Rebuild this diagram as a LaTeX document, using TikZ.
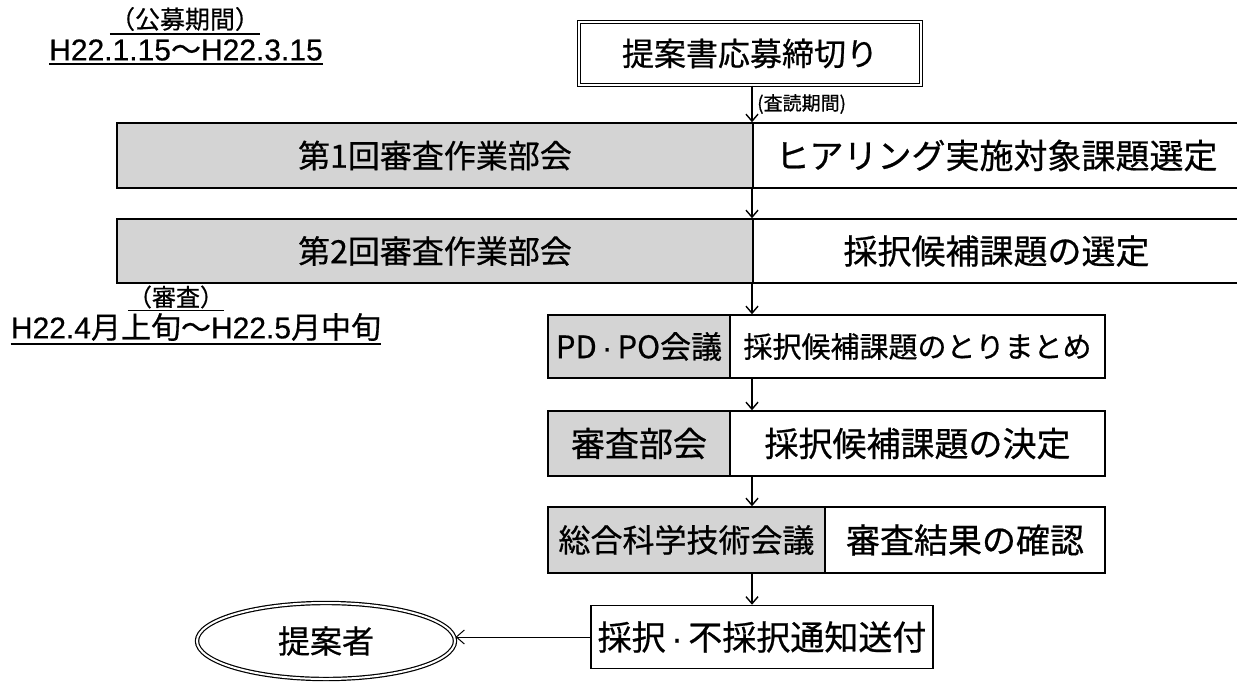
\documentclass[tikz,border=0pt]{standalone}
\usepackage{fontspec}
\setmainfont{Noto Sans CJK JP}[FakeBold=0.6]
\newfontfamily\lat{Liberation Sans}[FakeBold=0.4]
\usetikzlibrary{arrows.meta,shapes.geometric}
\newcommand{\fs}[1]{\fontsize{#1pt}{#1pt}\selectfont}
\newcommand{\mdot}{{\lat\,·\,}}
\begin{document}
\begin{tikzpicture}[x=1pt,y=-1pt,
  cell/.style={draw=black, line width=1.5pt, inner sep=0pt, anchor=center},
  graycell/.style={cell, fill=black!17},
  whitecell/.style={cell, fill=white},
  arr/.style={line width=1.6pt, -{Straight Barb[length=7pt,width=12pt,line width=1.4pt]}},
  lbl/.style={inner sep=0pt, anchor=center},
  uline/.style={line width=1.4pt}
]
\useasboundingbox[fill=white] (0,0) rectangle (1237,686);

% left labels
\node[lbl, font=\fs{25}] (p1) at (185,19) {（公募期間）};
\node[lbl, font=\fs{30}] (p2) at (186,50) {{\lat H22.1.15}～{\lat H22.3.15}};
\node[lbl, font=\fs{24}] (s1) at (176,297) {（審査）};
\node[lbl, font=\fs{30}] (s2) at (196,327) {{\lat H22.4}月上旬～{\lat H22.5}月中旬};
\draw[uline] ([yshift=-3pt]p1.south west) -- ([yshift=-3pt]p1.south east);
\draw[uline] ([yshift=-3pt]p2.south west) -- ([yshift=-3pt]p2.south east);
\draw[uline] ([yshift=-2pt]s1.south west) -- ([yshift=-2pt]s1.south east);
\draw[uline] ([yshift=-3pt]s2.south west) -- ([yshift=-3pt]s2.south east);

% top box
\node[draw=black, line width=1.2pt, double, double distance=2pt, inner sep=0pt,
      minimum width=342pt, minimum height=63pt, font=\fs{32}] (top) at (750,53.5) {提案書応募締切り};

% row 1
\node[graycell, minimum width=636pt, minimum height=65pt, font=\fs{32}] (g1) at (435,155.5) {第1回審査作業部会};
\node[whitecell, minimum width=487pt, minimum height=65pt, font=\fs{34}] (w1) at (996.5,155.5) {ヒアリング実施対象課題選定};
% row 2
\node[graycell, minimum width=636pt, minimum height=64pt, font=\fs{32}] (g2) at (435,251) {第2回審査作業部会};
\node[whitecell, minimum width=487pt, minimum height=64pt, font=\fs{34}] (w2) at (996.5,251) {採択候補課題の選定};
% row 3
\node[graycell, minimum width=182pt, minimum height=63pt, font=\fs{31}] (g3) at (639,346.5) {PD\mdot PO会議};
\node[whitecell, minimum width=375pt, minimum height=63pt, font=\fs{29}] (w3) at (917.5,346.5) {採択候補課題のとりまとめ};
% row 4
\node[graycell, minimum width=182pt, minimum height=65pt, font=\fs{34}] (g4) at (639,443.5) {審査部会};
\node[whitecell, minimum width=375pt, minimum height=65pt, font=\fs{34}] (w4) at (917.5,443.5) {採択候補課題の決定};
% row 5
\node[graycell, minimum width=277pt, minimum height=66pt, font=\fs{32}] (g5) at (686.5,540) {総合科学技術会議};
\node[whitecell, minimum width=280pt, minimum height=66pt, font=\fs{34}] (w5) at (965,540) {審査結果の確認};
% final
\node[whitecell, minimum width=342pt, minimum height=63pt, font=\fs{34}] (fin) at (762,637) {採択\mdot 不採択通知送付};
% proposer
\node[ellipse, draw=black, line width=1.2pt, double, double distance=2pt, inner sep=0pt,
      minimum width=258pt, minimum height=76pt, font=\fs{32}] (prop) at (326,641) {提案者};

% connectors
\coordinate (col) at (752,0);
\draw[arr] (col |- top.south) -- (col |- g1.north);
\node[lbl, anchor=west, font=\fs{19}] (rev) at (757,104) {(査読期間)};
\draw[arr] (col |- g1.south) -- (col |- g2.north);
\draw[arr] (col |- g2.south) -- (col |- g3.north);
\draw[arr] (col |- g3.south) -- (col |- g4.north);
\draw[arr] (col |- g4.south) -- (col |- g5.north);
\draw[arr] (col |- g5.south) -- (col |- fin.north);
\draw[line width=1pt, -{Straight Barb[length=8pt,width=14pt,line width=1pt]}] (fin.west) -- (fin.west -| prop.east);
\end{tikzpicture}
\end{document}
